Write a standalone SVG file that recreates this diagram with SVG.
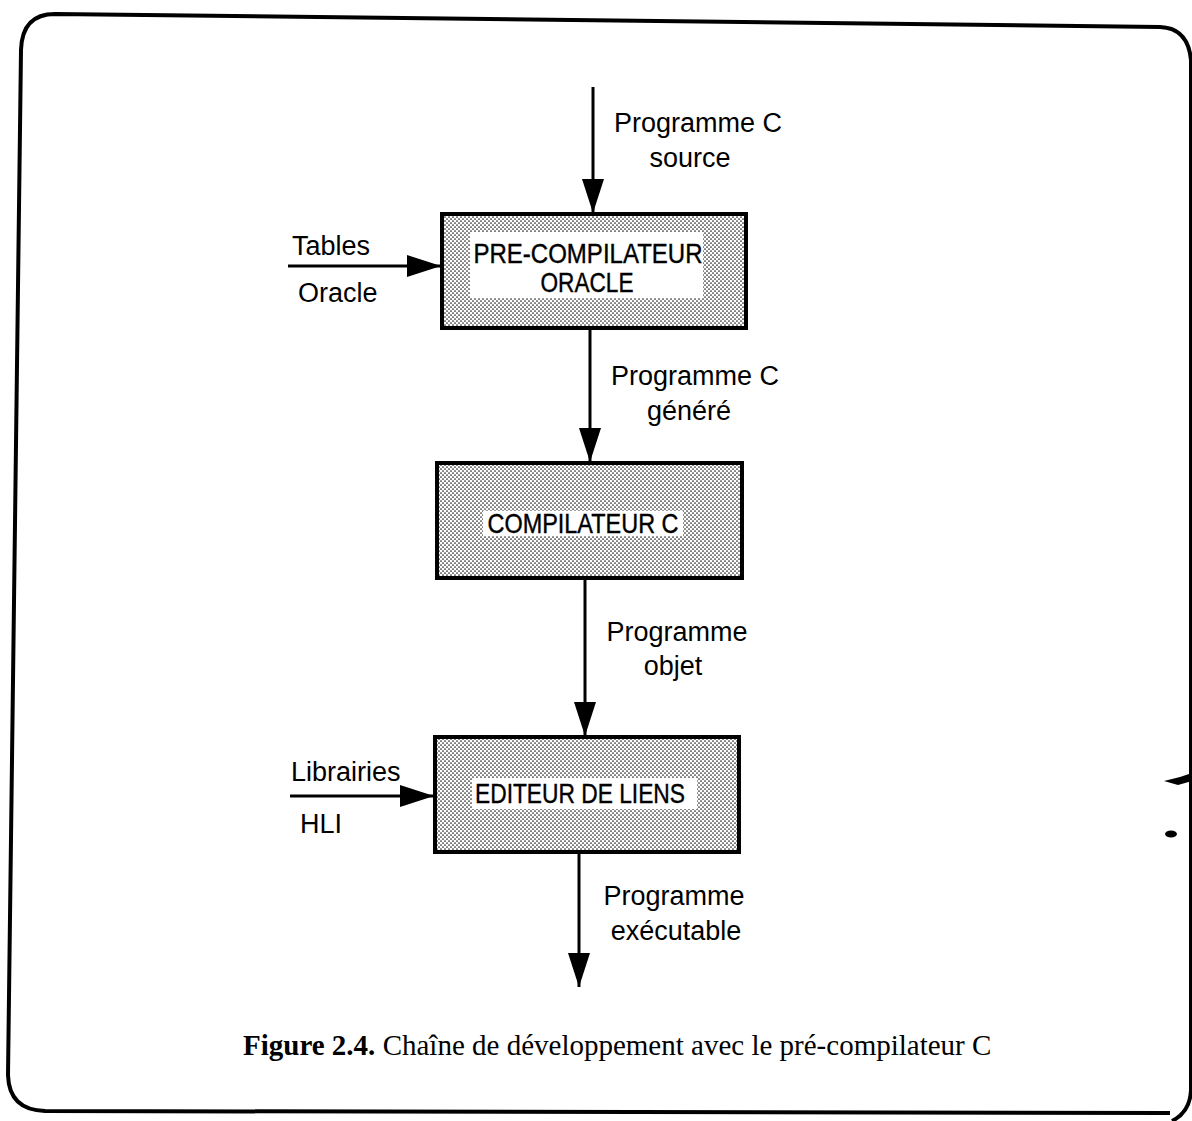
<svg xmlns="http://www.w3.org/2000/svg" width="1192" height="1121" viewBox="0 0 1192 1121">
<style>
.frame{fill:none;stroke:#000;stroke-width:4}
.box{fill:url(#dots);stroke:#000;stroke-width:4}
.lab{fill:#fff;stroke:none}
.bt{font-family:"Liberation Sans",Arial,sans-serif;font-size:28px;fill:#000;stroke:#000;stroke-width:0.4;text-anchor:middle}
.t{font-family:"Liberation Sans",Arial,sans-serif;font-size:27px;fill:#000}
.c{text-anchor:middle}
.edge{stroke:#000;stroke-width:3;fill:none}
.cap{font-family:"Liberation Serif","Times New Roman",serif;font-size:29px;fill:#000}
</style>
<defs>
<pattern id="dots" width="4" height="4" patternUnits="userSpaceOnUse">
<rect width="4" height="4" fill="#fff"/>
<circle cx="1" cy="1" r="0.85" fill="#222"/>
<circle cx="3" cy="3" r="0.85" fill="#222"/>
</pattern>
<marker id="ah" markerWidth="34" markerHeight="22" refX="34" refY="11" orient="auto" markerUnits="userSpaceOnUse">
<path d="M0,0 L34,11 L0,22 Z" fill="#000"/>
</marker>
</defs>
<rect width="1192" height="1121" fill="#fff"/>
<path class="frame" d="M55,14 L1160,27 Q1188,28 1191,60 L1191,1090 Q1190,1112 1172,1121 M1170,1113 L45,1111 Q9,1110 8,1075 L21,50 Q22,14 55,14"/>
<path d="M1164,781 L1180,777 L1192,773 L1192,781 L1178,785 Z" fill="#000"/>
<ellipse cx="1171" cy="834" rx="6" ry="3.5" fill="#000"/>
<g id="connectors">
<line class="edge" x1="593" y1="87" x2="593" y2="213" marker-end="url(#ah)"/>
<line class="edge" x1="288" y1="266" x2="441" y2="266" marker-end="url(#ah)"/>
<line class="edge" x1="590" y1="328" x2="590" y2="462" marker-end="url(#ah)"/>
<line class="edge" x1="585" y1="578" x2="585" y2="736" marker-end="url(#ah)"/>
<line class="edge" x1="290" y1="796" x2="434" y2="796" marker-end="url(#ah)"/>
<line class="edge" x1="579" y1="853" x2="579" y2="987" marker-end="url(#ah)"/>
</g>
<g id="precompilateur">
<rect class="box" x="442" y="214" width="304" height="114"/>
<rect class="lab" x="470" y="232" width="233" height="66"/>
<text class="bt" x="588" y="263" textLength="229" lengthAdjust="spacingAndGlyphs">PRE-COMPILATEUR</text>
<text class="bt" x="587" y="292" textLength="93" lengthAdjust="spacingAndGlyphs">ORACLE</text>
</g>
<g id="compilateur">
<rect class="box" x="437" y="463" width="305" height="115"/>
<rect class="lab" x="483" y="511" width="200" height="25"/>
<text class="bt" x="583" y="533" textLength="191" lengthAdjust="spacingAndGlyphs">COMPILATEUR C</text>
</g>
<g id="editeur">
<rect class="box" x="435" y="737" width="304" height="115"/>
<rect class="lab" x="472" y="778" width="225" height="31"/>
<text class="bt" x="580" y="803" textLength="210" lengthAdjust="spacingAndGlyphs">EDITEUR DE LIENS</text>
</g>
<g id="labels">
<text class="t c" x="698" y="132">Programme C</text>
<text class="t c" x="690" y="167">source</text>
<text class="t" x="292" y="255">Tables</text>
<text class="t" x="298" y="302">Oracle</text>
<text class="t c" x="695" y="385">Programme C</text>
<text class="t c" x="689" y="420">généré</text>
<text class="t c" x="677" y="641">Programme</text>
<text class="t c" x="673" y="675">objet</text>
<text class="t" x="291" y="781">Librairies</text>
<text class="t" x="300" y="833">HLI</text>
<text class="t c" x="674" y="905">Programme</text>
<text class="t c" x="676" y="940">exécutable</text>
</g>
<text class="cap" x="243" y="1055"><tspan font-weight="bold">Figure 2.4.</tspan> Chaîne de développement avec le pré-compilateur C</text>
</svg>
